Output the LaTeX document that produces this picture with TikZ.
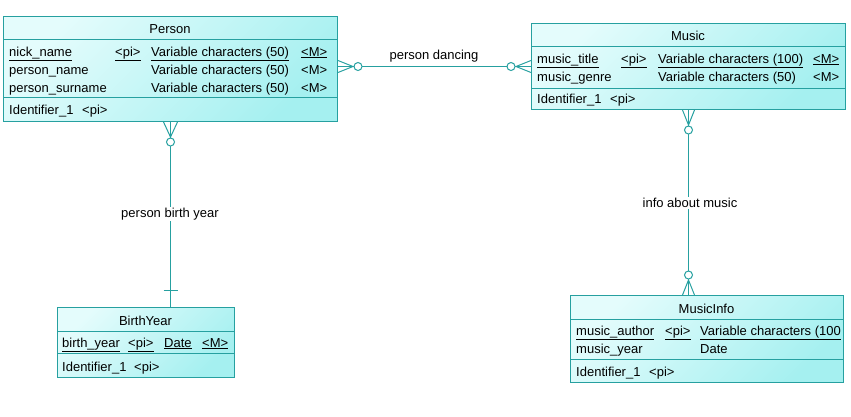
\documentclass[tikz,border=0pt]{standalone}
\usepackage{fontspec}
\setmainfont{Liberation Sans}
\usetikzlibrary{calc}
\begin{document}
\begin{tikzpicture}[x=1pt,y=-1pt,
    entity/.style={draw=erborder, line width=1pt, anchor=north west, inner sep=0pt,
        top color=erlight, bottom color=erdark, shading angle=45},
    sepline/.style={draw=erborder, line width=1pt},
    link/.style={draw=erborder, line width=1pt},
    field/.style={anchor=base west, inner sep=0pt, font=\fontsize{13}{15}\selectfont},
    title/.style={anchor=base, inner sep=0pt, font=\fontsize{13}{15}\selectfont},
    rolename/.style={inner sep=1pt, fill=white, font=\fontsize{13}{15}\selectfont}]
    % Define colors
    \definecolor{erborder}{RGB}{38, 160, 160}
    \definecolor{erlight}{RGB}{228, 252, 252}
    \definecolor{erdark}{RGB}{165, 240, 240}
    \useasboundingbox[fill=white] (0,0) rectangle (851,416);

    % Draw entity boxes
    \node[entity, minimum width=334pt, minimum height=105pt] (person) at (3,16) {};
    \node[entity, minimum width=314pt, minimum height=86pt] (music) at (531,23) {};
    \node[entity, minimum width=177pt, minimum height=70pt] (birth) at (57,307) {};
    \node[entity, minimum width=273pt, minimum height=87pt] (info) at (570,295) {};

    % Draw separators
    \draw[sepline] ($(person.north west)+(0,23)$) -- ($(person.north east)+(0,23)$);
    \draw[sepline] ($(person.north west)+(0,81)$) -- ($(person.north east)+(0,81)$);
    \draw[sepline] ($(music.north west)+(0,23)$) -- ($(music.north east)+(0,23)$);
    \draw[sepline] ($(music.north west)+(0,65)$) -- ($(music.north east)+(0,65)$);
    \draw[sepline] ($(birth.north west)+(0,24)$) -- ($(birth.north east)+(0,24)$);
    \draw[sepline] ($(birth.north west)+(0,46)$) -- ($(birth.north east)+(0,46)$);
    \draw[sepline] ($(info.north west)+(0,24)$) -- ($(info.north east)+(0,24)$);
    \draw[sepline] ($(info.north west)+(0,64)$) -- ($(info.north east)+(0,64)$);

    % Person
    \node[title] (ptitle) at (170,33) {Person};
    \node[field] (p1) at (9,56) {\makebox[106pt][l]{\underline{nick\_name}}\makebox[36pt][l]{\underline{<pi>}}\makebox[150pt][l]{\underline{Variable characters (50)}}\underline{<M>}};
    \node[field] (p2) at (9,74) {\makebox[142pt][l]{person\_name}\makebox[150pt][l]{Variable characters (50)}<M>};
    \node[field] (p3) at (9,92) {\makebox[142pt][l]{person\_surname}\makebox[150pt][l]{Variable characters (50)}<M>};
    \node[field] (pid) at (9,114) {\makebox[73pt][l]{Identifier\_1}<pi>};

    % Music
    \node[title] (mtitle) at (688,40) {Music};
    \node[field] (m1) at (537,63) {\makebox[84pt][l]{\underline{music\_title}}\makebox[37pt][l]{\underline{<pi>}}\makebox[155pt][l]{\underline{Variable characters (100)}}\underline{<M>}};
    \node[field] (m2) at (537,81) {\makebox[121pt][l]{music\_genre}\makebox[155pt][l]{Variable characters (50)}<M>};
    \node[field] (mid) at (537,103) {\makebox[73pt][l]{Identifier\_1}<pi>};

    % BirthYear
    \node[title] (btitle) at (145.5,325) {BirthYear};
    \node[field] (b1) at (62,347) {\makebox[66pt][l]{\underline{birth\_year}}\makebox[36pt][l]{\underline{<pi>}}\makebox[38pt][l]{\underline{Date}}\underline{<M>}};
    \node[field] (bid) at (62,371) {\makebox[72pt][l]{Identifier\_1}<pi>};

    % MusicInfo
    \node[title] (ititle) at (706.5,313) {MusicInfo};
    \node[field] (i1) at (576,335) {\makebox[89pt][l]{\underline{music\_author}}\makebox[35pt][l]{\underline{<pi>}}\underline{Variable characters (100}};
    \node[field] (i2) at (576,353) {\makebox[124pt][l]{music\_year}Date};
    \node[field] (iid) at (576,376) {\makebox[73pt][l]{Identifier\_1}<pi>};

    % person birth year
    \draw[link] (person.south) -- (person.south |- birth.north);
    \draw[link] ([xshift=-7pt]person.south) -- ++(7,15) -- ([xshift=7pt]person.south);
    \draw[link, fill=white] ($(person.south)+(0,20)$) circle (4pt);
    \draw[link] ($(person.south |- birth.north)+(-7,-17)$) -- ++(14,0);
    \node[rolename] (lbirth) at (170,214) {person birth year};

    % person dancing
    \draw[link] (person.east |- music.west) -- (music.west);
    \draw[link] ($(person.east |- music.west)+(0,-6)$) -- ++(15,6) -- ++(-15,6);
    \draw[link, fill=white] ($(person.east |- music.west)+(20,0)$) circle (4pt);
    \draw[link] ($(music.west)+(0,-6)$) -- ++(-15,6) -- ++(15,6);
    \draw[link, fill=white] ($(music.west)+(-20,0)$) circle (4pt);
    \node[rolename] (ldancing) at (434,56) {person dancing};

    % info about music
    \draw[link] (music.south) -- (music.south |- info.north);
    \draw[link] ([xshift=-6pt]music.south) -- ++(6,15) -- ([xshift=6pt]music.south);
    \draw[link, fill=white] ($(music.south)+(0,20)$) circle (4pt);
    \draw[link] ($(music.south |- info.north)+(-6,0)$) -- ++(6,-15) -- ++(6,15);
    \draw[link, fill=white] ($(music.south |- info.north)+(0,-20)$) circle (4pt);
    \node[rolename] (linfo) at (690,203) {info about music};
\end{tikzpicture}
\end{document}
